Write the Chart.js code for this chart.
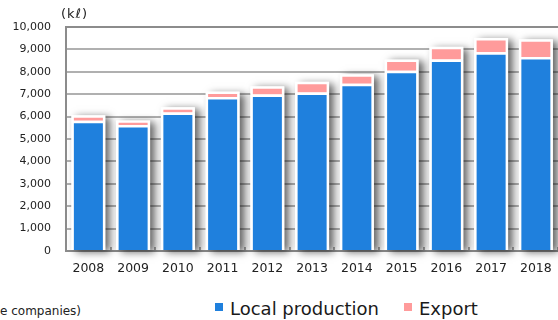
<!DOCTYPE html>
<html>
<head>
<meta charset="utf-8">
<script src="https://cdn.jsdelivr.net/npm/chart.js@4/dist/chart.umd.min.js"></script>
<style>
  html, body { margin: 0; padding: 0; background: #fff; }
  body { width: 558px; height: 320px; overflow: hidden; position: relative; font-family: "DejaVu Sans", Verdana, sans-serif; color: #222; }
  #wrap { position: absolute; left: 0; top: 0; width: 566px; height: 285px; }
  .abs { position: absolute; white-space: nowrap; }
  .unit { left: 61px; top: 7px; font-size: 13px; line-height: 13px; letter-spacing: 1px; }
  .sq { width: 8px; height: 8px; top: 303px; }
  .leg { top: 300px; font-size: 18px; line-height: 18px; color: #1a1a1a; }
  .note { left: 0; top: 305px; font-size: 12px; line-height: 12px; color: #222; }
</style>
</head>
<body>
<div id="wrap"><canvas id="chart" width="566" height="285"></canvas></div>
<div class="abs unit">(kℓ)</div>
<div class="abs note">e companies)</div>
<div class="abs sq" style="left:215px;background:#1f80dd"></div>
<div class="abs leg" style="left:230px">Local production</div>
<div class="abs sq" style="left:404px;background:#ff9b9b"></div>
<div class="abs leg" style="left:419px">Export</div>
<script>
// data (kl)
const years = ['2008', '2009', '2010', '2011', '2012', '2013', '2014', '2015', '2016', '2017', '2018'];
const localProduction = [5810, 5620, 6180, 6880, 6990, 7080, 7470, 8050, 8550, 8870, 8660];
const exportVolume = [250, 210, 240, 240, 360, 480, 420, 500, 570, 640, 790];
const yMax = 10000;
const yStep = 1000;

// soft drop shadow behind each stacked column
const barShadow = {
  id: 'barShadow',
  beforeDatasetsDraw(chart) {
    const ctx = chart.ctx;
    const first = chart.getDatasetMeta(0).data;
    const last = chart.getDatasetMeta(chart.data.datasets.length - 1).data;
    ctx.save();
    ctx.shadowColor = 'rgba(0,0,0,0.6)';
    ctx.shadowBlur = 8;
    ctx.shadowOffsetX = 5;
    ctx.shadowOffsetY = 2;
    ctx.fillStyle = '#fff';
    first.forEach((bar, i) => {
      const top = Math.min(bar.y, last[i].y);
      ctx.fillRect(bar.x - bar.width / 2, top, bar.width, bar.base - top);
    });
    ctx.restore();
  }
};

new Chart(document.getElementById('chart'), {
  type: 'bar',
  data: {
    labels: years,
    datasets: [
      { label: 'Local production', data: localProduction, backgroundColor: '#1f80dd', borderColor: '#fff', borderWidth: 2.5 },
      { label: 'Export', data: exportVolume, backgroundColor: '#ff9b9b', borderColor: '#fff', borderWidth: 2.5 }
    ]
  },
  options: {
    responsive: false,
    devicePixelRatio: 1,
    animation: false,
    layout: { padding: { top: 27, right: 5, left: 0, bottom: 0 } },
    datasets: { bar: { categoryPercentage: 1, barPercentage: 0.76 } },
    plugins: { legend: { display: false }, tooltip: { enabled: false } },
    scales: {
      x: {
        stacked: true,
        grid: { drawOnChartArea: false, drawTicks: true, tickLength: -4, offset: true, color: '#a8a8a8', lineWidth: 2 },
        border: { color: '#8c8c8c', width: 2 },
        ticks: { color: '#222', font: { family: 'DejaVu Sans', size: 12.5 }, padding: 14 },
        afterFit(s) { s.height = 34; }
      },
      y: {
        stacked: true,
        min: 0,
        max: yMax,
        ticks: {
          stepSize: yStep,
          color: '#222',
          font: { family: 'DejaVu Sans', size: 11 },
          padding: 15,
          callback: v => v.toLocaleString('en-US')
        },
        grid: {
          drawTicks: false,
          lineWidth: 2,
          color: c => c.tick && c.tick.value === yMax ? '#8c8c8c' : '#b0b0b0'
        },
        border: { color: '#8c8c8c', width: 2 },
        afterFit(s) { s.width = 66; }
      }
    }
  },
  plugins: [barShadow]
});
</script>
</body>
</html>
